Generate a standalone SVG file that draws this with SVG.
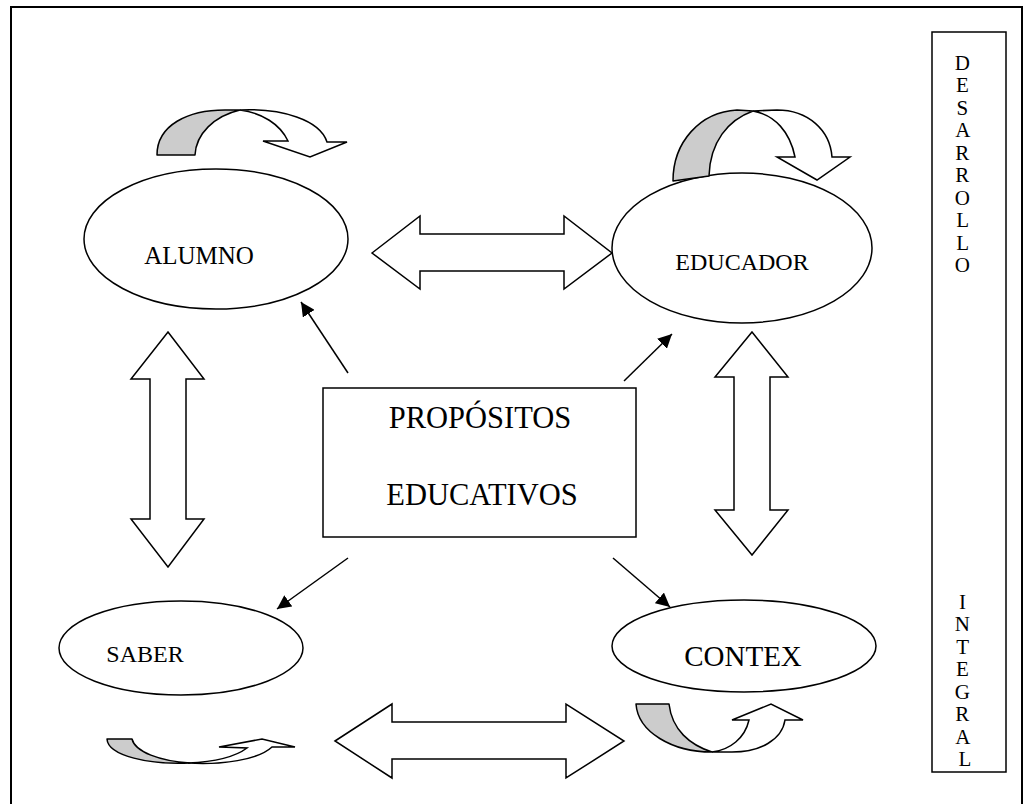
<svg xmlns="http://www.w3.org/2000/svg" width="1035" height="804" viewBox="0 0 1035 804">
<defs>
<marker id="ah" viewBox="0 0 10 10" refX="10" refY="5" markerWidth="14" markerHeight="14" markerUnits="userSpaceOnUse" orient="auto">
<path d="M0,0 L10,5 L0,10 Z" fill="#000"/>
</marker>
<style>
.ol{fill:#fff;stroke:#000;stroke-width:1.5}
.gr{fill:#cccccc;stroke:#000;stroke-width:1.5;stroke-linejoin:round}
.wh{fill:#fff;stroke:#000;stroke-width:1.5;stroke-linejoin:miter}
.ln{fill:none;stroke:#000;stroke-width:1.5;marker-end:url(#ah)}
.t{font-family:"Liberation Serif","Times New Roman",serif;fill:#000;text-anchor:middle}
</style>
</defs>
<rect width="1035" height="804" fill="#fff"/>
<rect x="11" y="7" width="1011" height="830" fill="none" stroke="#000" stroke-width="2"/>

<g id="alumno">
<ellipse class="ol" cx="216" cy="239" rx="132" ry="70"/>
<text class="t" x="199" y="264" font-size="25">ALUMNO</text>
</g>
<g id="educador">
<ellipse class="ol" cx="742" cy="248" rx="130" ry="75"/>
<text class="t" x="742" y="270" font-size="24">EDUCADOR</text>
</g>
<g id="saber">
<ellipse class="ol" cx="181" cy="648" rx="122" ry="47"/>
<text class="t" x="145" y="662" font-size="24">SABER</text>
</g>
<g id="contex">
<ellipse class="ol" cx="744" cy="646" rx="132" ry="46"/>
<text class="t" x="743" y="666" font-size="29">CONTEX</text>
</g>
<g id="propositos">
<rect class="ol" x="323" y="388" width="313" height="149"/>
<text class="t" x="480" y="428" font-size="30.5">PROPÓSITOS</text>
<text class="t" x="482" y="505" font-size="30.5">EDUCATIVOS</text>
</g>
<g id="desarrollo">
<rect x="932" y="32" width="74" height="740" fill="#fff" stroke="#000" stroke-width="1.5"/>
<text class="t" font-size="21">
<tspan x="965" y="70">D</tspan>
<tspan x="965" y="92.45">E</tspan>
<tspan x="965" y="114.9">S</tspan>
<tspan x="965" y="137.35">A</tspan>
<tspan x="965" y="159.8">R</tspan>
<tspan x="965" y="182.25">R</tspan>
<tspan x="965" y="204.7">O</tspan>
<tspan x="965" y="227.15">L</tspan>
<tspan x="965" y="249.6">L</tspan>
<tspan x="965" y="272.05">O</tspan>
<tspan x="965" y="608.8">I</tspan>
<tspan x="965" y="631.25">N</tspan>
<tspan x="965" y="653.7">T</tspan>
<tspan x="965" y="676.15">E</tspan>
<tspan x="965" y="698.6">G</tspan>
<tspan x="965" y="721.05">R</tspan>
<tspan x="965" y="743.5">A</tspan>
<tspan x="965" y="765.95">L</tspan>
</text>
</g>

<g id="connectors">
<path class="wh" d="M372,253 L420,216 L420,234 L564,234 L564,216 L612,253 L564,289 L564,271 L420,271 L420,289 Z"/>
<path class="wh" d="M335,741 L392,704 L392,722 L566,722 L566,704 L624,741 L566,778 L566,759 L392,759 L392,778 Z"/>
<path class="wh" d="M168,332 L204,379 L186,379 L186,519 L204,519 L168,567 L131,519 L150,519 L150,379 L131,379 Z"/>
<path class="wh" d="M752,332 L788,377 L770,377 L770,510 L788,510 L752,555 L715,510 L734,510 L734,377 L715,377 Z"/>

<line class="ln" x1="348" y1="373" x2="301" y2="302"/>
<line class="ln" x1="348" y1="558" x2="277" y2="609"/>
<line class="ln" x1="624" y1="381" x2="672" y2="334"/>
<line class="ln" x1="613" y1="558" x2="670" y2="607"/>

<path class="gr" d="M157,155 C157,125 188,110 225,110 L240,110 C214,116 196,134 195,155 Z"/>
<path class="wh" d="M240,110 C282,108 320,120 327,142 L347,142 L310,157 L263,141 L288,141 C280,124 262,113 240,110 Z"/>

<path class="gr" d="M673,181 C673,142 700,112 737,110 L753,111 C728,120 710,142 709,176 Z"/>
<path class="wh" d="M753,111 L777,110 C808,110 830,130 832,157 L850,157 L817,180 L777,157 L795,157 C790,132 775,115 753,111 Z"/>

<path class="gr" d="M107,739 L132,739 C135,752 160,761 190,763 C150,765 108,756 107,739 Z"/>
<path class="wh" d="M188,763 C222,765 258,760 272,747 L295,747 L262,739 L219,747 L247,748 C235,757 212,762 188,763 Z"/>

<path class="gr" d="M636,704 L669,704 C672,730 690,745 712,752 C672,752 638,732 636,704 Z"/>
<path class="wh" d="M712,752 L732,752 C760,752 782,740 785,720 L803,720 L771,704 L732,720 L749,720 C745,738 730,750 712,752 Z"/>
</g>
</svg>
